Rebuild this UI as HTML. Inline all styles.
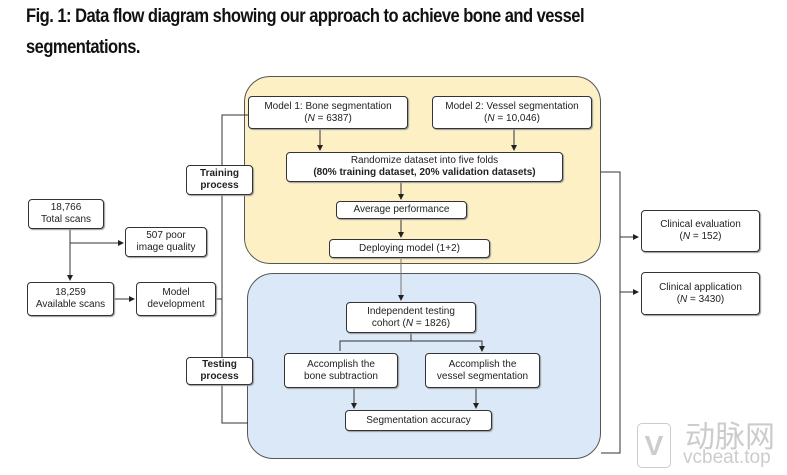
<!DOCTYPE html><html><head><style>
body{margin:0;width:787px;height:475px;background:#fff;overflow:hidden;font-family:"Liberation Sans",sans-serif;position:relative}
.t{position:absolute;left:26px;font-weight:bold;font-size:19px;letter-spacing:-0.6px;color:#111;transform:scaleX(0.87);transform-origin:left;white-space:nowrap}
.b{position:absolute;border:1px solid #333;border-radius:4px;background:#fff;font-size:10px;color:#222;display:flex;align-items:center;justify-content:center;text-align:center;line-height:12px;box-shadow:1px 1px 1px #999;box-sizing:border-box}
.b span{display:block}
</style></head><body>
<div class="t" style="top:6px">Fig. 1: Data flow diagram showing our approach to achieve bone and vessel</div>
<div class="t" style="top:37px">segmentations.</div>
<div style="position:absolute;left:244px;top:76px;width:357px;height:188px;background:#fdf0c5;border:1px solid #555;border-radius:26px;box-sizing:border-box"></div>
<div style="position:absolute;left:247px;top:273px;width:354px;height:186px;background:#dbe8f7;border:1px solid #555;border-radius:26px;box-sizing:border-box"></div>
<svg width="787" height="475" style="position:absolute;left:0;top:0">
<defs><marker id="a" markerWidth="6" markerHeight="6" refX="5" refY="3" orient="auto"><path d="M0,0L6,3L0,6z" fill="#222"/></marker></defs>
<g stroke="#333" stroke-width="1" fill="none">
<path d="M248,115H222V423H248"/>
<path d="M601,172H620V453H601"/>
<path d="M620,237H638" marker-end="url(#a)"/>
<path d="M620,292H638" marker-end="url(#a)"/>
<path d="M216,299H222"/>
<path d="M70,229V280" marker-end="url(#a)"/>
<path d="M70,243H123" marker-end="url(#a)"/>
<path d="M114,299H134" marker-end="url(#a)"/>
<path d="M320,129V150" marker-end="url(#a)"/>
<path d="M514,129V150" marker-end="url(#a)"/>
<path d="M401,182V199" marker-end="url(#a)"/>
<path d="M401,219V237" marker-end="url(#a)"/>
<path d="M401,258V300" marker-end="url(#a)" stroke="#777"/>
<path d="M411,333V341M340,351V341H482V351" marker-end="url(#a)"/>
<path d="M354,388V408" marker-end="url(#a)"/>
<path d="M476,388V408" marker-end="url(#a)"/>
</g></svg>
<div class="b" style="left:248px;top:96px;width:160px;height:33px"><span>Model 1: Bone segmentation<br>(<i>N</i> = 6387)</span></div>
<div class="b" style="left:432px;top:96px;width:160px;height:33px"><span>Model 2: Vessel segmentation<br>(<i>N</i> = 10,046)</span></div>
<div class="b" style="left:286px;top:152px;width:277px;height:30px"><span>Randomize dataset into five folds<br><b>(80% training dataset, 20% validation datasets)</b></span></div>
<div class="b" style="left:336px;top:201px;width:131px;height:18px"><span>Average performance</span></div>
<div class="b" style="left:329px;top:239px;width:161px;height:19px"><span>Deploying model (1+2)</span></div>
<div class="b" style="left:346px;top:302px;width:130px;height:31px"><span>Independent testing<br>cohort (<i>N</i> = 1826)</span></div>
<div class="b" style="left:284px;top:353px;width:114px;height:35px"><span>Accomplish the<br>bone subtraction</span></div>
<div class="b" style="left:425px;top:353px;width:115px;height:35px"><span>Accomplish the<br>vessel segmentation</span></div>
<div class="b" style="left:345px;top:410px;width:147px;height:21px"><span>Segmentation accuracy</span></div>
<div class="b" style="left:186px;top:165px;width:67px;height:30px;font-weight:bold"><span>Training<br>process</span></div>
<div class="b" style="left:186px;top:357px;width:67px;height:28px;font-weight:bold"><span>Testing<br>process</span></div>
<div class="b" style="left:28px;top:199px;width:76px;height:30px"><span>18,766<br>Total scans</span></div>
<div class="b" style="left:125px;top:227px;width:82px;height:30px"><span>507 poor<br>image quality</span></div>
<div class="b" style="left:27px;top:282px;width:87px;height:34px"><span>18,259<br>Available scans</span></div>
<div class="b" style="left:136px;top:282px;width:80px;height:34px"><span>Model<br>development</span></div>
<div class="b" style="left:641px;top:210px;width:119px;height:42px"><span>Clinical evaluation<br>(<i>N</i> = 152)</span></div>
<div class="b" style="left:641px;top:272px;width:119px;height:43px"><span>Clinical application<br>(<i>N</i> = 3430)</span></div>
<div style="position:absolute;left:637px;top:423px;width:32px;height:43px;border:1px solid #ccc;border-radius:5px;color:#ccc;font-size:28px;font-weight:bold;text-align:center;line-height:43px">V</div>
<div style="position:absolute;left:685px;top:418px;color:#ccc;font-size:30px;font-family:'Noto Sans CJK SC',sans-serif;line-height:32px">动脉网</div>
<div style="position:absolute;left:683px;top:448px;color:#ccc;font-size:19px;line-height:20px">vcbeat.top</div>
</body></html>
